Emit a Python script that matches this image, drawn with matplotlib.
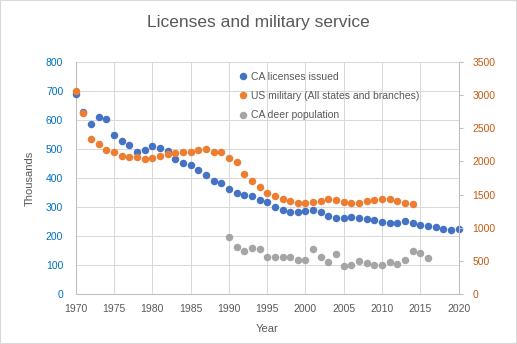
import matplotlib
matplotlib.use("Agg")
import matplotlib.pyplot as plt
from matplotlib.patches import Rectangle
import numpy as np

plt.rcParams["font.family"] = ["Liberation Sans", "DejaVu Sans"]

# CA hunting licenses issued (thousands), 1970-2020
lic_years = np.arange(1970, 2021)
licenses = [690, 628, 584, 608, 601, 546, 526, 512, 489, 495,
            509, 502, 492, 466, 450, 445, 426, 409, 389, 381,
            362, 347, 340, 337, 325, 316, 301, 288, 282, 284,
            285, 288, 282, 270, 263, 261, 265, 261, 258, 254,
            250, 246, 246, 251, 246, 239, 236, 232, 226, 220,
            226]

# US military personnel, all states and branches (thousands), 1970-2014
mil_years = np.arange(1970, 2015)
military = [3063, 2725, 2330, 2255, 2164, 2134, 2083, 2068, 2059, 2029,
            2044, 2083, 2109, 2124, 2134, 2143, 2164, 2179, 2139, 2139,
            2044, 1988, 1804, 1703, 1617, 1518, 1473, 1437, 1407, 1380,
            1380, 1385, 1410, 1428, 1425, 1390, 1380, 1380, 1400, 1415,
            1430, 1427, 1398, 1368, 1353]

# CA deer population (thousands), 1990-2016
deer_years = np.arange(1990, 2017)
deer = [855, 706, 646, 691, 676, 568, 565, 565, 565, 511,
        511, 676, 556, 481, 601, 418, 433, 500, 478, 445,
        443, 481, 448, 513, 648, 616, 541]

BLUE = "#4472C4"
ORANGE = "#ED7D31"
GRAY = "#A5A5A5"
TXT = "#595959"
GRID = "#D9D9D9"

fig = plt.figure(figsize=(5.17, 3.44), dpi=100)
ax = fig.add_axes([0.1464, 0.1445, 0.7408, 0.6767])
ax2 = ax.twinx()

ms = 5.4
h1, = ax.plot(lic_years, licenses, "o", color=BLUE, ms=ms, mec="none",
              clip_on=False, zorder=3, label="CA licenses issued")
h2, = ax2.plot(mil_years, military, "o", color=ORANGE, ms=ms, mec="none",
               clip_on=False, zorder=3, label="US military (All states and branches)")
h3, = ax2.plot(deer_years, deer, "o", color=GRAY, ms=ms, mec="none",
               clip_on=False, zorder=3, label="CA deer population")

ax.set_xlim(1970, 2020)
ax.set_ylim(0, 800)
ax2.set_ylim(0, 3500)
ax.set_xticks(np.arange(1970, 2021, 5))
ax.set_yticks(np.arange(0, 801, 100))
ax2.set_yticks(np.arange(0, 3501, 500))

ax.grid(True, color=GRID, lw=0.75)
ax.set_axisbelow(True)

for s in ("top", "right"):
    ax.spines[s].set_visible(False)
for s in ("top", "left", "bottom"):
    ax2.spines[s].set_visible(False)
ax.spines["left"].set_color("#BFBFBF")
ax.spines["bottom"].set_color("#BFBFBF")
ax2.spines["right"].set_color("#BFBFBF")
for sp in (ax.spines["left"], ax.spines["bottom"], ax2.spines["right"]):
    sp.set_linewidth(0.75)

ax.tick_params(axis="y", length=0, pad=9, labelsize=7.5, labelcolor="#0070C0")
ax.tick_params(axis="x", length=0, pad=7, labelsize=7.5, labelcolor=TXT)
ax2.tick_params(axis="y", length=3, width=0.75, color="#BFBFBF", pad=7,
                labelsize=7.5, labelcolor="#C55A11")

ax.set_ylabel("Thousands", color=TXT, fontsize=8, labelpad=8)
ax.set_xlabel("Year", color=TXT, fontsize=8, labelpad=7)
fig.suptitle("Licenses and military service", color=TXT, fontsize=12.5,
             y=0.955)

ax2.legend(handles=[h1, h2, h3], loc="upper left",
           bbox_to_anchor=(0.449, 0.806), bbox_transform=fig.transFigure,
           frameon=False, borderpad=0, handlelength=1, handletextpad=0.3,
           labelspacing=0.88, fontsize=7.5, labelcolor=TXT)

fig.add_artist(Rectangle((0, 0), 1, 1, transform=fig.transFigure,
                         fill=False, edgecolor=GRID, lw=1.5))

fig.savefig("out.png", dpi=100)
